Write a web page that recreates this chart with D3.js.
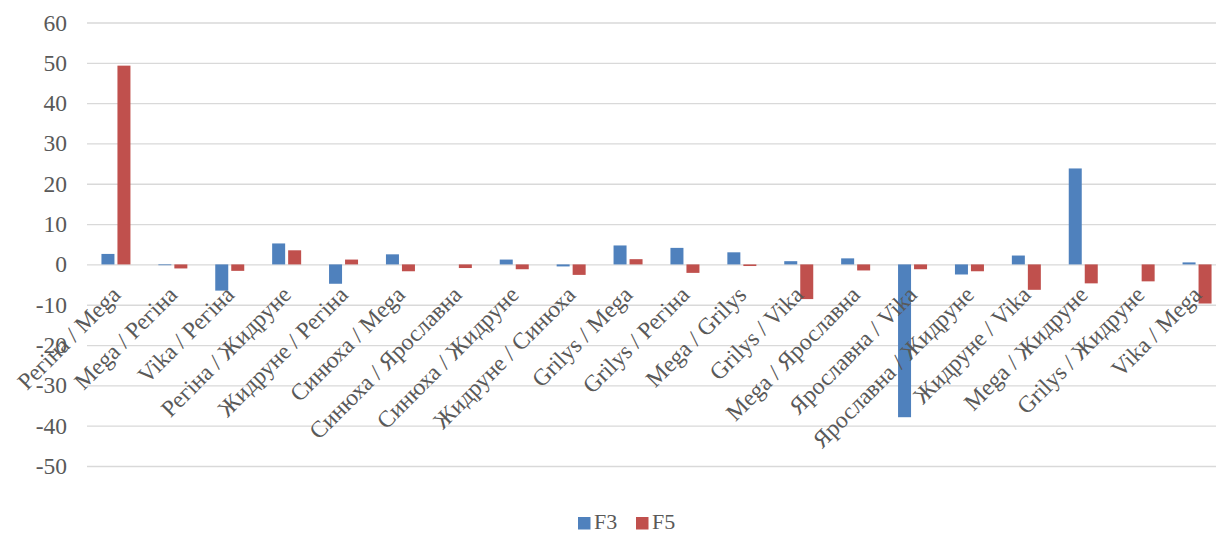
<!DOCTYPE html>
<html>
<head>
<meta charset="utf-8">
<script src="https://cdn.jsdelivr.net/npm/d3@7"></script>
<style>
  body { margin: 0; background: #fff; }
  svg text { font-family: "Liberation Serif", "Times New Roman", serif; fill: #595959; }
</style>
</head>
<body>
<div id="chart"></div>
<script>
const categories = [
  "Регіна / Mega", "Mega / Регіна", "Vika / Регіна", "Регіна / Жидруне", "Жидруне / Регіна",
  "Синюха / Mega", "Синюха / Ярославна", "Синюха / Жидруне", "Жидруне / Синюха", "Grilys / Mega",
  "Grilys / Регіна", "Mega / Grilys", "Grilys / Vika", "Mega / Ярославна", "Ярославна / Vika",
  "Ярославна / Жидруне", "Жидруне / Vika", "Mega / Жидруне", "Grilys / Жидруне", "Vika / Mega"
];
const seriesNames = ["F3", "F5"];
const f3 = [2.6, -0.2, -6.5, 5.2, -4.8, 2.5, 0, 1.2, -0.5, 4.7, 4.1, 3.0, 0.8, 1.5, -37.9, -2.5, 2.2, 23.8, 0, 0.5];
const f5 = [49.3, -1.0, -1.6, 3.5, 1.2, -1.7, -0.9, -1.2, -2.6, 1.3, -2.1, -0.4, -8.6, -1.5, -1.2, -1.7, -6.3, -4.7, -4.2, -9.7];
const yTicks = [-50, -40, -30, -20, -10, 0, 10, 20, 30, 40, 50, 60];
const colors = ["#4F81BD", "#C0504D"];

const width = 1216, height = 533;
const fontSize = "23.5px";

const svg = d3.select("#chart")
  .append("svg")
  .attr("width", width)
  .attr("height", height)
  .style("display", "block");

const x = d3.scaleBand()
  .domain(categories)
  .range([87.5, 1225.5]);

const xs = d3.scaleBand()
  .domain(seriesNames)
  .range([x.bandwidth() / 2 - 14.5, x.bandwidth() / 2 + 14.5])
  .paddingInner(0.1875);

const y = d3.scaleLinear()
  .domain([-50, 60])
  .range([466, 22.5]);

// gridlines + y labels
const yAxis = d3.axisLeft(y)
  .tickValues(yTicks)
  .tickSize(-(width - 87))
  .tickPadding(20)
  .tickFormat((d) => String(d));

const yAxisGroup = svg.append("g")
  .attr("transform", "translate(87,0)")
  .call(yAxis);

yAxisGroup.select(".domain").remove();
yAxisGroup.selectAll(".tick line")
  .attr("stroke", "#D9D9D9")
  .attr("stroke-width", 1.3);
yAxisGroup.selectAll(".tick text")
  .style("font-size", fontSize)
  .style("fill", "#595959")
  .style("font-family", "Liberation Serif");

// bars
const data = categories.map((c, i) => ({ cat: c, values: [f3[i], f5[i]] }));

const groups = svg.selectAll("g.cat")
  .data(data)
  .enter()
  .append("g")
  .attr("class", "cat")
  .attr("transform", (d) => `translate(${x(d.cat)},0)`);

groups.selectAll("rect")
  .data((d) => d.values.map((v, j) => ({ name: seriesNames[j], value: v, color: colors[j] })))
  .enter()
  .append("rect")
  .attr("x", (d) => xs(d.name))
  .attr("y", (d) => y(Math.max(0, d.value)))
  .attr("width", xs.bandwidth())
  .attr("height", (d) => Math.abs(y(d.value) - y(0)))
  .attr("fill", (d) => d.color);

// category labels, rotated, next to zero line
svg.append("g")
  .selectAll("text")
  .data(categories)
  .enter()
  .append("text")
  .attr("text-anchor", "end")
  .attr("dy", "0.35em")
  .attr("transform", (d) => `translate(${x(d) + x.bandwidth() / 2},${y(0) + 26}) rotate(-45)`)
  .style("font-size", fontSize)
  .text((d) => d);

// legend
const legend = svg.append("g")
  .attr("transform", "translate(578,517)");

const legendItem = legend.selectAll("g")
  .data(seriesNames)
  .enter()
  .append("g")
  .attr("transform", (d, i) => `translate(${i * 58},0)`);

legendItem.append("rect")
  .attr("width", 12.5)
  .attr("height", 12.5)
  .attr("fill", (d, i) => colors[i]);

legendItem.append("text")
  .attr("x", 16)
  .attr("y", 12)
  .style("font-size", "22px")
  .text((d) => d);
</script>
</body>
</html>
